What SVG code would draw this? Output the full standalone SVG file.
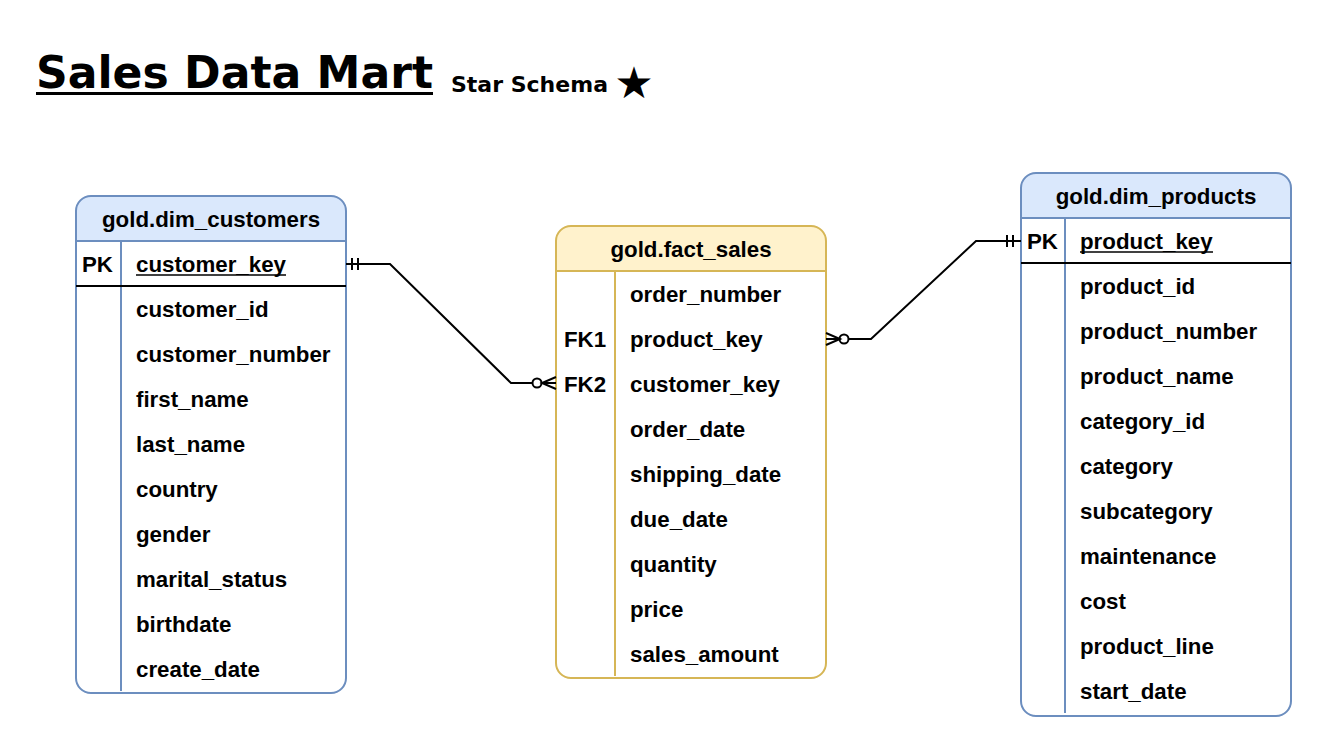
<svg xmlns="http://www.w3.org/2000/svg" width="1322" height="747" viewBox="0 0 1322 747">
<style>
.t{font-family:"Liberation Sans",Arial,sans-serif;font-weight:bold;font-size:22.3px;fill:#000}
.h{text-anchor:middle}
.blue{fill:#dae8fc;stroke:#6c8ebf;stroke-width:2}
.bl{stroke:#6c8ebf;stroke-width:2;fill:none}
.yel{fill:#fff2cc;stroke:#d6b656;stroke-width:2}
.yl{stroke:#d6b656;stroke-width:2;fill:none}
.k{stroke:#000;stroke-width:2;fill:none}
.c{stroke:#000;stroke-width:2;fill:none}
</style>
<rect width="1322" height="747" fill="#fff"/>
<g id="title">
<text x="36" y="88" font-family="'DejaVu Sans',Verdana,sans-serif" font-weight="bold" font-size="44" textLength="397" lengthAdjust="spacingAndGlyphs">Sales Data Mart</text>
<line x1="36" y1="93.5" x2="433" y2="93.5" stroke="#000" stroke-width="3"/>
<text x="451" y="92" font-family="'DejaVu Sans',Verdana,sans-serif" font-weight="bold" font-size="22" textLength="157" lengthAdjust="spacingAndGlyphs">Star Schema</text>
<text x="634" y="98" text-anchor="middle" font-family="'DejaVu Sans',sans-serif" font-size="44">★</text>
</g>
<g id="dim_customers">
<path class="blue" d="M76,241 V211 a15,15 0 0 1 15,-15 H331 a15,15 0 0 1 15,15 V241 Z"/>
<path class="bl" d="M76,241 V678 a15,15 0 0 0 15,15 H331 a15,15 0 0 0 15,-15 V241"/>
<line class="bl" x1="121" y1="241" x2="121" y2="691"/>
<line class="k" x1="76" y1="286" x2="346" y2="286"/>
<text class="t h" x="211" y="227">gold.dim_customers</text>
<text class="t" x="82" y="272">PK</text>
<text class="t" x="136" y="272">customer_key</text>
<line x1="136" y1="275" x2="286" y2="275" stroke="#000" stroke-width="1.5"/>
<text class="t" x="136" y="317">customer_id</text>
<text class="t" x="136" y="362">customer_number</text>
<text class="t" x="136" y="407">first_name</text>
<text class="t" x="136" y="452">last_name</text>
<text class="t" x="136" y="497">country</text>
<text class="t" x="136" y="542">gender</text>
<text class="t" x="136" y="587">marital_status</text>
<text class="t" x="136" y="632">birthdate</text>
<text class="t" x="136" y="677">create_date</text>
</g>
<g id="fact_sales">
<path class="yel" d="M556,271 V241 a15,15 0 0 1 15,-15 H811 a15,15 0 0 1 15,15 V271 Z"/>
<path class="yl" d="M556,271 V663 a15,15 0 0 0 15,15 H811 a15,15 0 0 0 15,-15 V271"/>
<line class="yl" x1="615" y1="271" x2="615" y2="676"/>
<text class="t h" x="691" y="257">gold.fact_sales</text>
<text class="t" x="630" y="302">order_number</text>
<text class="t" x="564" y="347">FK1</text>
<text class="t" x="630" y="347">product_key</text>
<text class="t" x="564" y="392">FK2</text>
<text class="t" x="630" y="392">customer_key</text>
<text class="t" x="630" y="437">order_date</text>
<text class="t" x="630" y="482">shipping_date</text>
<text class="t" x="630" y="527">due_date</text>
<text class="t" x="630" y="572">quantity</text>
<text class="t" x="630" y="617">price</text>
<text class="t" x="630" y="662">sales_amount</text>
</g>
<g id="dim_products">
<path class="blue" d="M1021,218 V188 a15,15 0 0 1 15,-15 H1276 a15,15 0 0 1 15,15 V218 Z"/>
<path class="bl" d="M1021,218 V701 a15,15 0 0 0 15,15 H1276 a15,15 0 0 0 15,-15 V218"/>
<line class="bl" x1="1065" y1="218" x2="1065" y2="713"/>
<line class="k" x1="1021" y1="263" x2="1291" y2="263"/>
<text class="t h" x="1156" y="204">gold.dim_products</text>
<text class="t" x="1027" y="249">PK</text>
<text class="t" x="1080" y="249">product_key</text>
<line x1="1080" y1="252" x2="1213" y2="252" stroke="#000" stroke-width="1.5"/>
<text class="t" x="1080" y="294">product_id</text>
<text class="t" x="1080" y="339">product_number</text>
<text class="t" x="1080" y="384">product_name</text>
<text class="t" x="1080" y="429">category_id</text>
<text class="t" x="1080" y="474">category</text>
<text class="t" x="1080" y="519">subcategory</text>
<text class="t" x="1080" y="564">maintenance</text>
<text class="t" x="1080" y="609">cost</text>
<text class="t" x="1080" y="654">product_line</text>
<text class="t" x="1080" y="699">start_date</text>
</g>
<g id="connectors">
<path class="c" d="M346,264 H390 L511,383 H532"/>
<line class="c" x1="352" y1="258" x2="352" y2="270"/>
<line class="c" x1="358" y1="258" x2="358" y2="270"/>
<circle class="c" cx="537" cy="383" r="4.5" fill="#fff"/>
<path class="c" d="M556,377 L542,383 L556,389 M542,383 H556"/>
<path class="c" d="M1021,241 H976 L871,339 H849"/>
<line class="c" x1="1007" y1="235" x2="1007" y2="247"/>
<line class="c" x1="1013" y1="235" x2="1013" y2="247"/>
<circle class="c" cx="844" cy="339" r="4.5" fill="#fff"/>
<path class="c" d="M826,333 L840,339 L826,345 M826,339 H839"/>
</g>
</svg>
